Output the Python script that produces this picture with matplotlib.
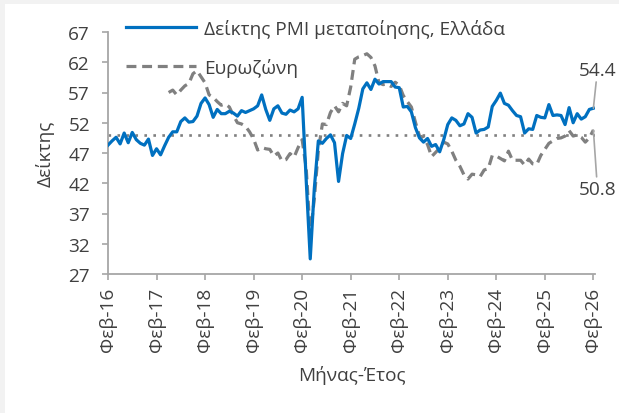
import matplotlib
matplotlib.use("Agg")
import matplotlib.pyplot as plt
import numpy as np

# ---- data ----
greece_pmi = [
    48.3, 49.0, 49.6, 48.5, 50.3, 48.7, 50.4, 49.2, 48.6, 48.3, 49.3,
    46.6, 47.7, 46.7, 48.2, 49.6, 50.5, 50.5, 52.2, 52.8, 52.1, 52.2, 53.1,
    55.2, 56.1, 55.0, 52.9, 54.2, 53.5, 53.5, 53.9, 53.6, 53.1, 54.0, 53.7,
    54.0, 54.3, 54.8, 56.6, 54.2, 52.4, 54.3, 54.8, 53.6, 53.4, 54.1, 53.8,
    54.3, 56.2, 42.5, 29.5, 41.1, 49.0, 48.6, 49.4, 50.0, 48.7, 42.3, 46.9,
    49.9, 49.4, 51.8, 54.4, 57.6, 58.6, 57.5, 59.2, 58.4, 58.8, 58.8, 58.8,
    57.9, 57.8, 54.6, 54.7, 53.8, 51.2, 49.5, 48.8, 49.4, 48.1, 48.4, 47.2,
    49.2, 51.7, 52.8, 52.4, 51.5, 51.8, 53.5, 52.9, 50.3, 50.8, 50.9, 51.3,
    54.7, 55.7, 56.9, 55.2, 54.9, 54.0, 53.2, 53.0, 50.3, 51.0, 50.9, 53.2,
    52.9, 52.8, 55.0, 53.2, 53.3, 53.2, 51.7, 54.5, 52.0, 53.5, 52.6, 53.0,
    54.2, 54.4,
]
eurozone_start = 15  # May 2017 (months after Feb 2016)
eurozone_pmi = [
    57.0, 57.4, 56.6, 57.4, 58.1, 58.5, 60.1, 60.6,
    59.6, 58.6, 56.6, 56.2, 55.5, 54.9, 55.1, 54.6, 53.2, 52.0, 51.8, 51.4,
    50.5, 49.3, 47.5, 47.9, 47.7, 47.6, 46.5, 47.0, 45.7, 45.9, 46.9, 46.3,
    47.9, 49.2, 44.5, 33.4, 39.4, 47.4, 51.8, 51.7, 53.7, 54.8, 53.8, 55.2,
    54.8, 57.9, 62.5, 62.9, 63.1, 63.4, 62.8, 61.4, 58.6, 58.3, 58.4, 58.0,
    58.7, 58.2, 56.5, 55.5, 54.6, 52.1, 49.8, 49.6, 48.4, 46.4, 47.1, 47.8,
    48.8, 48.5, 47.3, 45.8, 44.8, 43.4, 42.7, 43.5, 43.4, 43.1, 44.2, 44.4,
    46.6, 46.5, 46.1, 45.7, 47.3, 45.8, 45.8, 45.8, 45.0, 46.0, 45.2, 45.1,
    46.6, 47.6, 48.6, 49.0, 49.4, 49.5, 49.8, 50.7, 49.8, 50.0, 49.6, 48.8,
    49.5, 50.8,
]
tick_labels = ["Φεβ-16", "Φεβ-17", "Φεβ-18", "Φεβ-19", "Φεβ-20", "Φεβ-21",
               "Φεβ-22", "Φεβ-23", "Φεβ-24", "Φεβ-25", "Φεβ-26"]
y_ticks = [27, 32, 37, 42, 47, 52, 57, 62, 67]
threshold = 50
label_greece = "Δείκτης PMI μεταποίησης, Ελλάδα"
label_euro = "Ευρωζώνη"

# ---- style ----
plt.rcParams['font.family'] = ['Open Sans', 'DejaVu Sans']
FS = 13.7
TXT = '#404040'
AX = '#a6a6a6'
BLUE = '#0070c0'
GRAY = '#808080'

W, H = 619, 414
fig = plt.figure(figsize=(W / 100, H / 100), dpi=100, facecolor='#f2f2f2')
fig.patches.append(plt.Rectangle((5 / W, 0), 1, (H - 5) / H, transform=fig.transFigure,
                                 facecolor='white', edgecolor='none', zorder=-10))

ax = fig.add_axes([108 / W, (H - 275) / H, (595 - 108) / W, (275 - 33) / H])
ax.set_facecolor('none')

x_gr = np.arange(len(greece_pmi))
x_eu = np.arange(eurozone_start, eurozone_start + len(eurozone_pmi))

ax.axhline(threshold, color=GRAY, lw=1.9, ls=(0, (1, 2.4)), zorder=1)
ln_eu, = ax.plot(x_eu, eurozone_pmi, color=GRAY, lw=2.3, ls=(0, (3.1, 1.8)),
                 label=label_euro, zorder=2)
ln_gr, = ax.plot(x_gr, greece_pmi, color=BLUE, lw=2.3, label=label_greece, zorder=3)

ax.set_xlim(0, 120.4)
ax.set_ylim(27, 67)
ax.set_yticks(y_ticks)
ax.set_xticks(np.arange(0, 121, 12))
ax.set_xticklabels(tick_labels, rotation=90)

for s in ['top', 'right']:
    ax.spines[s].set_visible(False)
for s in ['left', 'bottom']:
    ax.spines[s].set_color(AX)
    ax.spines[s].set_linewidth(1.3)
ax.tick_params(axis='both', colors=AX, labelcolor=TXT, labelsize=FS, length=4, width=1.2)
ax.tick_params(axis='x', pad=5)
ax.tick_params(axis='y', pad=9)

ax.set_ylabel("Δείκτης", fontsize=FS, color=TXT, labelpad=10)
ax.set_xlabel("Μήνας-Έτος", fontsize=FS, color=TXT, labelpad=10)

# end annotations
last_gr = greece_pmi[-1]
last_eu = eurozone_pmi[-1]
ax.annotate(f"{last_gr:.1f}", xy=(x_gr[-1], last_gr), xytext=(x_gr[-1] + 1, last_gr + 4.8),
            fontsize=FS, color=TXT, ha='center', va='bottom', annotation_clip=False,
            arrowprops=dict(arrowstyle='-', color=AX, lw=1.2, shrinkA=0, shrinkB=0))
ax.annotate(f"{last_eu:.1f}", xy=(x_gr[-1], last_eu), xytext=(x_gr[-1] + 1, last_eu - 8.2),
            fontsize=FS, color=TXT, ha='center', va='top', annotation_clip=False,
            arrowprops=dict(arrowstyle='-', color=AX, lw=1.2, shrinkA=0, shrinkB=0))

leg = fig.legend(handles=[ln_gr, ln_eu], loc='upper left',
                 bbox_to_anchor=(126 / W, (H - 20) / H), frameon=False,
                 fontsize=FS, handlelength=3.7, handletextpad=0.4,
                 labelspacing=1.05, borderpad=0, borderaxespad=0)
for t in leg.get_texts():
    t.set_color(TXT)

fig.savefig("out.png", dpi=100, facecolor=fig.get_facecolor())
